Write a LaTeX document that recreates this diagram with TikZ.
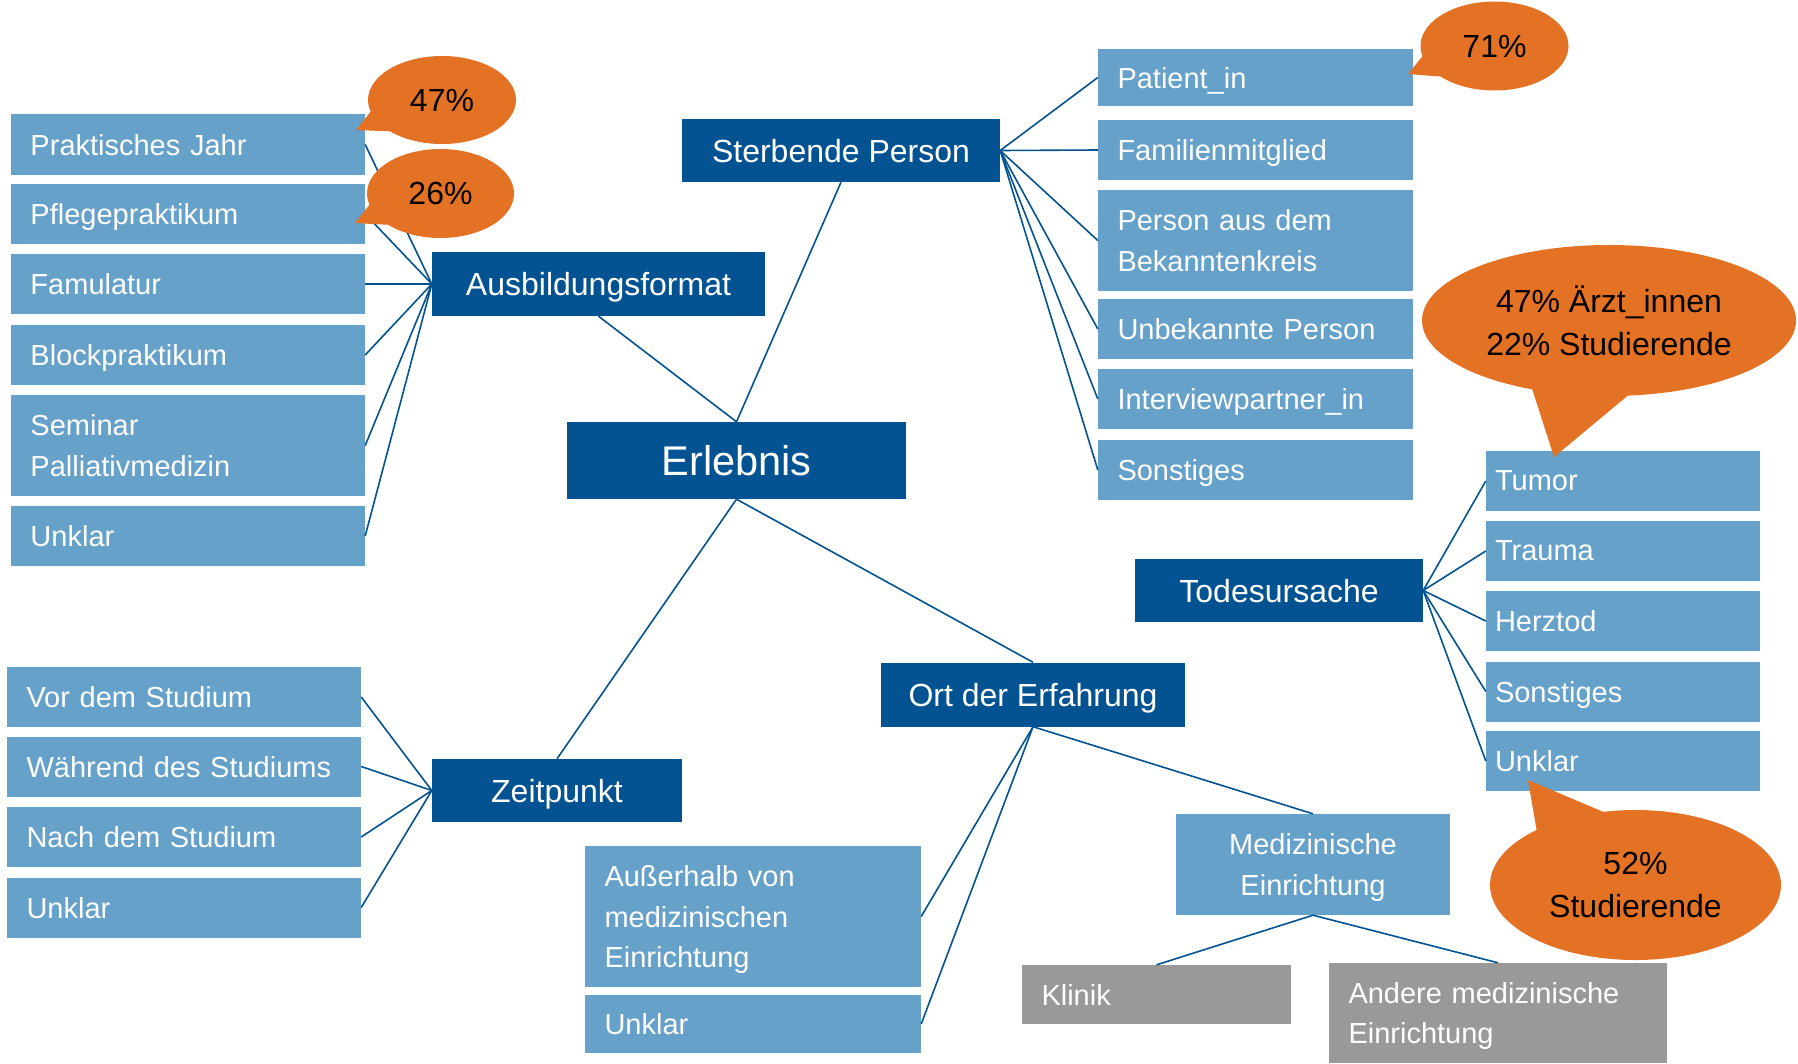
\documentclass[tikz,border=0pt]{standalone}
\usepackage{fontspec}
\setmainfont{Liberation Sans}
\usetikzlibrary{shapes.callouts}

\definecolor{hubblue}{RGB}{3,83,146}
\definecolor{leafblue}{RGB}{102,161,201}
\definecolor{leafgrey}{RGB}{153,153,153}
\definecolor{noteorange}{RGB}{227,114,36}

\newcommand\leaffont{\fontsize{29}{40.5}\selectfont}
\newcommand\hubfont{\fontsize{32}{40}\selectfont}
\newcommand\rootfont{\fontsize{41.5}{50}\selectfont}
\newcommand\notefont{\fontsize{32}{43}\selectfont}

\tikzset{
  hub/.style={fill=hubblue, text=white, font=\hubfont, inner sep=0pt, text depth=0pt},
  leaf block/.style={fill=leafblue, text=white, font=\leaffont, inner xsep=19.5pt, inner ysep=0pt, align=left},
  leaf/.style={leaf block, text depth=0pt},
  grey leaf/.style={leaf, fill=leafgrey},
  grey block/.style={leaf block, fill=leafgrey},
  link/.style={draw=hubblue, line width=1.6pt},
  note/.style={ellipse callout, fill=noteorange, text=black, font=\notefont, inner sep=0pt, align=center, callout pointer arc=30},
}

\begin{document}
\begin{tikzpicture}[x=1pt, y=-1pt]
  \useasboundingbox (0,0) rectangle (1798,1063);

  % centre and main branches
  \node (erl)  at (736.5,460.5) [hub, font=\rootfont, minimum width=339pt, minimum height=77pt] {Erlebnis};
  \node (aus)  at (598.5,284)   [hub, minimum width=333pt, minimum height=64pt] {Ausbildungsformat};
  \node (ster) at (841,150.5)   [hub, minimum width=318pt, minimum height=63pt] {Sterbende Person};
  \node (tod)  at (1279,590.5)  [hub, minimum width=288pt, minimum height=63pt] {Todesursache};
  \node (ort)  at (1033,694.5)  [hub, minimum width=304pt, minimum height=64pt] {Ort der Erfahrung};
  \node (zeit) at (557,790.5)   [hub, minimum width=250pt, minimum height=63pt] {Zeitpunkt};

  % Ausbildungsformat
  \node (pj)  at (188,144.5) [leaf, text width=315pt, minimum height=61pt]  {Praktisches Jahr};
  \node (pp)  at (188,214)   [leaf, text width=315pt, minimum height=60pt]  {Pflegepraktikum};
  \node (fam) at (188,284)   [leaf, text width=315pt, minimum height=60pt]  {Famulatur};
  \node (bp)  at (188,355)   [leaf, text width=315pt, minimum height=60pt]  {Blockpraktikum};
  \node (sem) at (188,445.5) [leaf block, text width=315pt, minimum height=101pt] {Seminar\\Palliativmedizin};
  \node (unA) at (188,536)   [leaf, text width=315pt, minimum height=60pt]  {Unklar};

  % Sterbende Person
  \node (pat)  at (1255.5,77.5) [leaf, text width=276pt, minimum height=57pt]  {Patient\_in};
  \node (fml)  at (1255.5,150)  [leaf, text width=276pt, minimum height=60pt]  {Familienmitglied};
  \node (bek)  at (1255.5,240.5)[leaf block, text width=276pt, minimum height=101pt] {Person aus dem\\Bekanntenkreis};
  \node (unb)  at (1255.5,329)  [leaf, text width=276pt, minimum height=60pt]  {Unbekannte Person};
  \node (intv) at (1255.5,399)  [leaf, text width=276pt, minimum height=60pt]  {Interviewpartner\_in};
  \node (sonS) at (1255.5,470)  [leaf, text width=276pt, minimum height=60pt]  {Sonstiges};

  % Todesursache
  \node (tum)  at (1623,481)   [leaf, inner xsep=9pt, text width=256pt, minimum height=60pt] {Tumor};
  \node (tra)  at (1623,551)   [leaf, inner xsep=9pt, text width=256pt, minimum height=60pt] {Trauma};
  \node (her)  at (1623,621)   [leaf, inner xsep=9pt, text width=256pt, minimum height=60pt] {Herztod};
  \node (sonT) at (1623,691.5) [leaf, inner xsep=9pt, text width=256pt, minimum height=60pt] {Sonstiges};
  \node (unT)  at (1623,761)   [leaf, inner xsep=9pt, text width=256pt, minimum height=60pt] {Unklar};

  % Zeitpunkt
  \node (vor)  at (184,697)   [leaf, text width=315pt, minimum height=60pt] {Vor dem Studium};
  \node (waeh) at (184,766.5) [leaf, text width=315pt, minimum height=60pt] {Während des Studiums};
  \node (nach) at (184,837)   [leaf, text width=315pt, minimum height=60pt] {Nach dem Studium};
  \node (unZ)  at (184,907.5) [leaf, text width=315pt, minimum height=60pt] {Unklar};

  % Ort der Erfahrung
  \node (auss) at (753,916.5)  [leaf block, text width=297pt, minimum height=141pt] {Außerhalb von\\medizinischen\\\smash{Einrichtung}};
  \node (unO)  at (753,1024)   [leaf, text width=297pt, minimum height=58pt]  {Unklar};
  \node (med)  at (1313,864.5) [leaf block, align=center, text width=235pt, minimum height=101pt] {Medizinische\\\smash{Einrichtung}};
  \node (kli)  at (1156.5,994.5) [grey leaf, text width=230pt, minimum height=59pt]  {Klinik};
  \node (and)  at (1498,1013)    [grey block, text width=299pt, minimum height=100pt] {Andere medizinische\\\smash{Einrichtung}};

  \path
    (aus.south)  edge [link] (erl.north)
    (ster.south) edge [link] (erl.north)
    (erl.south)  edge [link] (zeit.north)
    (erl.south)  edge [link] (ort.north)
    (aus.west) edge [link] (pj.east)
    (aus.west) edge [link] (pp.east)
    (aus.west) edge [link] (fam.east)
    (aus.west) edge [link] (bp.east)
    (aus.west) edge [link] (sem.east)
    (aus.west) edge [link] (unA.east)
    (ster.east) edge [link] (pat.west)
    (ster.east) edge [link] (fml.west)
    (ster.east) edge [link] (bek.west)
    (ster.east) edge [link] (unb.west)
    (ster.east) edge [link] (intv.west)
    (ster.east) edge [link] (sonS.west)
    (tod.east) edge [link] (tum.west)
    (tod.east) edge [link] (tra.west)
    (tod.east) edge [link] (her.west)
    (tod.east) edge [link] (sonT.west)
    (tod.east) edge [link] (unT.west)
    (zeit.west) edge [link] (vor.east)
    (zeit.west) edge [link] (waeh.east)
    (zeit.west) edge [link] (nach.east)
    (zeit.west) edge [link] (unZ.east)
    (ort.south) edge [link] (med.north)
    (ort.south) edge [link] (auss.east)
    (ort.south) edge [link] (unO.east)
    (med.south) edge [link] (kli.north)
    (med.south) edge [link] (and.north);

  % callouts
  \node (n47) at (442,100)     [note, minimum width=148pt, minimum height=88pt, callout absolute pointer={(356,130)}] {47\%};
  \node (n26) at (440.5,193.5) [note, minimum width=147pt, minimum height=89pt, callout absolute pointer={(355,223)}] {26\%};
  \node (n71) at (1494.5,46)   [note, minimum width=148pt, minimum height=89pt, callout absolute pointer={(1408,74)}] {71\%};
  \node (nAe) at (1609,320.5)  [note, minimum width=374pt, minimum height=151pt, callout absolute pointer={(1554,457)}] {47\% Ärzt\_innen\\22\% Studierende};
  \node (n52) at (1635.5,885)  [note, minimum width=291pt, minimum height=150pt, callout absolute pointer={(1528,780)}] {52\%\\Studierende};
\end{tikzpicture}
\end{document}
